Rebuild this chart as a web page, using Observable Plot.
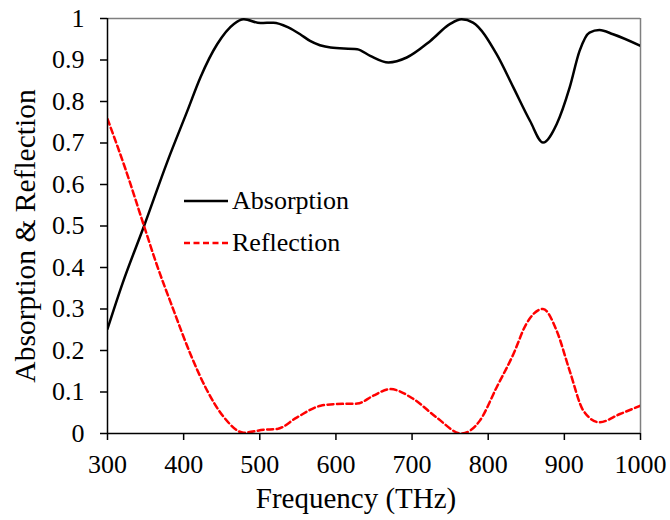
<!DOCTYPE html>
<html>
<head>
<meta charset="utf-8">
<script src="https://cdn.jsdelivr.net/npm/d3@7"></script>
<script src="https://cdn.jsdelivr.net/npm/@observablehq/plot@0.6"></script>
<style>
  html, body { margin: 0; padding: 0; background: #fff; }
  #chart svg { font-family: "Liberation Serif", "Times New Roman", serif; }
</style>
</head>
<body>
<div id="chart"></div>
<script>
// ---- data ----
const absFreq = [300, 320, 348, 379, 405, 422, 444, 466, 479, 501, 518, 538, 553, 566, 593, 628, 645, 669, 693, 724, 750, 765, 780, 811, 833, 855, 872, 890, 907, 920, 933, 946, 964, 1000];
const absVal  = [0.252, 0.363, 0.50, 0.657, 0.778, 0.858, 0.938, 0.987, 0.998, 0.989, 0.990, 0.978, 0.962, 0.946, 0.930, 0.926, 0.910, 0.894, 0.906, 0.946, 0.987, 0.998, 0.990, 0.914, 0.834, 0.753, 0.701, 0.746, 0.834, 0.922, 0.966, 0.972, 0.962, 0.934];

const refFreq = [300, 324, 348, 363, 387, 409, 431, 453, 479, 505, 523, 549, 580, 601, 628, 649, 671, 702, 732, 765, 789, 811, 833, 850, 872, 890, 907, 925, 946, 973, 1000];
const refVal  = [0.758, 0.635, 0.50, 0.416, 0.296, 0.191, 0.103, 0.039, 0.002, 0.009, 0.011, 0.039, 0.067, 0.071, 0.072, 0.091, 0.107, 0.083, 0.039, 0.0, 0.031, 0.111, 0.191, 0.264, 0.300, 0.247, 0.151, 0.055, 0.027, 0.047, 0.067];

const xTicks = [300, 400, 500, 600, 700, 800, 900, 1000];
const xTickLabels = ["300", "400", "500", "600", "700", "800", "900", "1000"];
const yTicks = [0, 0.1, 0.2, 0.3, 0.4, 0.5, 0.6, 0.7, 0.8, 0.9, 1];
const yTickLabels = ["0", "0.1", "0.2", "0.3", "0.4", "0.5", "0.6", "0.7", "0.8", "0.9", "1"];
const seriesNames = ["Absorption", "Reflection"];
const xTitle = "Frequency (THz)";
const yTitle = "Absorption & Reflection";

const absData = absFreq.map((f, i) => ({f, v: absVal[i]}));
const refData = refFreq.map((f, i) => ({f, v: refVal[i]}));

const W = 670, H = 520;
const mL = 107, mR = 30, mT = 18, mB = 87;

function legendMark() {
  const g = d3.create("svg:g");
  const x0 = mL + 77, x1 = mL + 121, tx = mL + 125;
  const rows = [
    {y: mT + 183, name: seriesNames[0], stroke: "#000", dash: null},
    {y: mT + 225, name: seriesNames[1], stroke: "#ff0000", dash: "6,3.5"}
  ];
  for (const r of rows) {
    const l = g.append("line").attr("x1", x0).attr("x2", x1).attr("y1", r.y).attr("y2", r.y)
      .attr("stroke", r.stroke).attr("stroke-width", 2.5);
    if (r.dash) l.attr("stroke-dasharray", r.dash);
    g.append("text").attr("x", tx).attr("y", r.y).attr("dy", "0.32em")
      .attr("text-anchor", "start")
      .attr("font-size", 26).attr("fill", "#000").text(r.name);
  }
  return g.node();
}

const chart = Plot.plot({
  width: W, height: H,
  marginLeft: mL, marginRight: mR, marginTop: mT, marginBottom: mB,
  style: {fontFamily: "Liberation Serif, Times New Roman, serif", background: "#fff", color: "#000"},
  x: {domain: [300, 1000]},
  y: {domain: [0, 1]},
  marks: [
    Plot.ruleY([1], {stroke: "#7f7f7f", strokeWidth: 1.5}),
    Plot.ruleX([1000], {stroke: "#7f7f7f", strokeWidth: 1.5}),
    Plot.line(absData, {x: "f", y: "v", stroke: "#000", strokeWidth: 2.5, curve: "monotone-x", clip: true}),
    Plot.line(refData, {x: "f", y: "v", stroke: "#ff0000", strokeWidth: 2.5, strokeDasharray: "6,3.5", curve: "monotone-x", clip: true}),
    Plot.axisX({ticks: xTicks, tickFormat: d => xTickLabels[xTicks.indexOf(d)], tickSize: 7, tickPadding: 14, fontSize: 26, label: null, stroke: "#000", strokeWidth: 1.5}),
    Plot.axisY({ticks: yTicks, tickFormat: d => yTickLabels[yTicks.indexOf(d)], tickSize: 7, tickPadding: 16, fontSize: 26, label: null, stroke: "#000", strokeWidth: 1.5}),
    Plot.ruleX([300], {stroke: "#000", strokeWidth: 1.5}),
    Plot.ruleY([0], {stroke: "#000", strokeWidth: 1.5}),
    Plot.text([xTitle], {frameAnchor: "bottom", text: d => d, dy: 74, dx: -18, fontSize: 29, fill: "#000"}),
    Plot.text([yTitle], {frameAnchor: "left", textAnchor: "middle", text: d => d, dx: -82, dy: 10, rotate: -90, fontSize: 29.5, fill: "#000"}),
    legendMark
  ]
});
document.getElementById("chart").appendChild(chart);
</script>
</body>
</html>
